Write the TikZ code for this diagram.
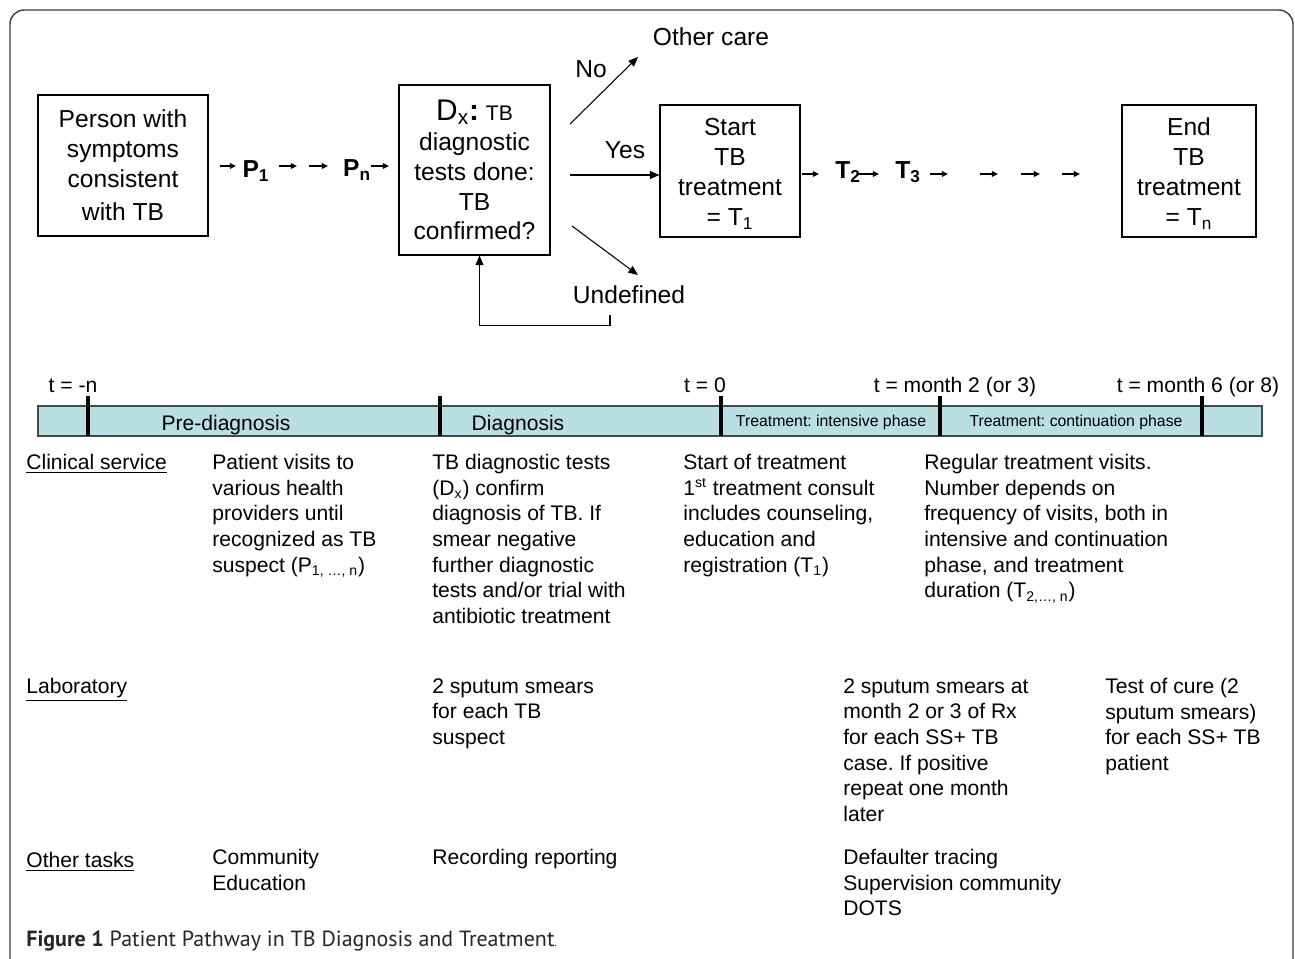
\documentclass[tikz,border=0pt]{standalone}
\usepackage{fontspec}
\setmainfont{Liberation Sans}
\newfontfamily\capfont{PT Sans}
\usetikzlibrary{arrows.meta,positioning,calc}
\frenchspacing

\definecolor{barfill}{HTML}{B9DFE2}
\definecolor{bardraw}{HTML}{3E4A4C}
\definecolor{framegray}{HTML}{3A3A3A}
\newcommand{\topsize}{\fontsize{14}{17}\selectfont}
\newcommand{\bodysize}{\fontsize{12}{14.6}\selectfont}

\begin{document}
\begin{tikzpicture}[x=0.02cm,y=-0.02cm,
    pbox/.style={draw,line width=0.6pt,align=center,inner sep=0pt,font=\topsize},
    arr/.style={-{Triangle[length=5.5pt,width=4.5pt]},line width=0.6pt},
    smallarr/.style={-{Triangle[length=3.5pt,width=3.2pt]},line width=0.6pt},
    toplbl/.style={font=\topsize,inner sep=0pt},
    tlbl/.style={font=\fontsize{12}{14}\selectfont,inner sep=0pt,anchor=base},
    bodytext/.style={font=\bodysize,align=left,anchor=north west,inner sep=0pt,
        execute at begin node={\strut}}]
    \useasboundingbox (0,0) rectangle (1295,958);
    \clip (0,0) rectangle (1295,958);
    \draw[framegray,line width=0.8pt,rounded corners=8pt] (10,10) rectangle (1293,1010);

    % pathway boxes
    \node[pbox,minimum width=3.4cm,minimum height=2.82cm] (person) at (123,165.5)
        {Person with\\symptoms\\consistent\\[2pt]with TB};
    \node[pbox,minimum width=3.02cm,minimum height=3.4cm] (dx) at (474.5,170)
        {{\fontsize{17}{19}\selectfont D\textsubscript{x}\textbf{:}} {\fontsize{12}{17}\selectfont TB}\\diagnostic\\tests done:\\TB\\confirmed?};
    \node[pbox,minimum width=2.8cm,minimum height=2.64cm] (start) at (730,171)
        {\rule{0pt}{13pt}Start\\TB\\treatment\\= T\textsubscript{1}};
    \node[pbox,minimum width=2.68cm,minimum height=2.64cm] (end) at (1189,171)
        {\rule{0pt}{13pt}End\\TB\\treatment\\= T\textsubscript{n}};

    \node[toplbl,font=\topsize\bfseries] (p1) at (256,171) {P\textsubscript{1}};
    \node[toplbl,font=\topsize\bfseries] (pn) at (357,170) {P\textsubscript{n}};
    \node[toplbl,font=\topsize\bfseries] (t2) at (848,172) {T\textsubscript{2}};
    \node[toplbl,font=\topsize\bfseries] (t3) at (908,172) {T\textsubscript{3}};

    % small arrows between visits
    \foreach \xa/\xb [count=\i] in {220/236,279/297,309/328,371/389} {
        \coordinate (pa\i) at (\xa,166);
        \coordinate (pb\i) at (\xb,166);
        \draw[smallarr] (pa\i) -- (pb\i);
    }
    \foreach \xa/\xb [count=\i] in {802/819,858/879,930/948,980/998,1021/1040,1062/1080} {
        \coordinate (ta\i) at (\xa,174);
        \coordinate (tb\i) at (\xb,174);
        \draw[smallarr] (ta\i) -- (tb\i);
    }

    % outcomes of diagnosis
    \coordinate (nostart) at (570,124);
    \coordinate (noend) at (638,57);
    \coordinate (yesstart) at (570,175);
    \coordinate (undstart) at (572,226);
    \coordinate (undend) at (638,275);
    \coordinate (fb) at (610,315);
    \draw[arr] (nostart) -- (noend);
    \draw[arr] (yesstart) -- (yesstart -| start.west);
    \draw[arr] (undstart) -- (undend);
    \draw[arr] (fb) |- ($(dx.south)+(5,70)$) -- ($(dx.south)+(5,0)$);
    \node[toplbl] (no) at (591,69) {No};
    \node[toplbl] (yes) at (625,150) {Yes};
    \node[toplbl] (other) at (711,37) {Other care};
    \node[toplbl] (undef) at (629,295) {Undefined};

    % time line
    \draw[draw=bardraw,fill=barfill,line width=0.6pt] (38,406) rectangle (1262,436);
    \foreach \tx in {88,440,721,940,1202}
        \draw[line width=2.2pt] (\tx,396) -- (\tx,436);
    \node[tlbl] at (73,392) {t = -n};
    \node[tlbl] at (705,392) {t = 0};
    \node[tlbl] at (955,392) {t = month 2 (or 3)};
    \node[tlbl] at (1198,392) {t = month 6 (or 8)};
    \node[tlbl] at (226,430) {Pre-diagnosis};
    \node[tlbl] at (518,430) {Diagnosis};
    \node[font=\fontsize{9}{11}\selectfont,inner sep=0pt] at (831,422) {Treatment: intensive phase};
    \node[font=\fontsize{9}{11}\selectfont,inner sep=0pt] at (1076,422) {Treatment: continuation phase};

    % clinical service
    \node[bodytext] at (26,451) {\underline{Clinical service}};
    \node[bodytext] at (212,454) {Patient visits to\\various health\\providers until\\recognized as TB\\suspect (P\textsubscript{1, \ldots, n})};
    \node[bodytext] at (432,454) {TB diagnostic tests\\(D\textsubscript{x}) confirm\\diagnosis of TB. If\\smear negative\\further diagnostic\\tests and/or trial with\\antibiotic treatment};
    \node[bodytext] at (683,454) {Start of treatment\\1\textsuperscript{st} treatment consult\\includes counseling,\\education and\\registration (T\textsubscript{1})};
    \node[bodytext] at (924,454) {Regular treatment visits.\\Number depends on\\frequency of visits, both in\\intensive and continuation\\phase, and treatment\\duration (T\textsubscript{2,\ldots, n})};

    % laboratory
    \node[bodytext] at (26,675) {\underline{Laboratory}};
    \node[bodytext] at (432,678) {2 sputum smears\\for each TB\\suspect};
    \node[bodytext] at (843,678) {2 sputum smears at\\month 2 or 3 of Rx\\for each SS+ TB\\case. If positive\\repeat one month\\later};
    \node[bodytext] at (1105,678) {Test of cure (2\\sputum smears)\\for each SS+ TB\\patient};

    % other tasks
    \node[bodytext] at (26,849) {\underline{Other tasks}};
    \node[bodytext] at (212,849) {Community\\Education};
    \node[bodytext] at (432,846) {Recording reporting};
    \node[bodytext] at (843,849) {Defaulter tracing\\Supervision community\\DOTS};

    \node[anchor=west,inner sep=0pt,font=\capfont\fontsize{12.5}{14}\selectfont,text=black!85] at (26,941)
        {\textbf{Figure 1} Patient Pathway in TB Diagnosis and Treatment{\fontsize{7}{8}\selectfont .}};
\end{tikzpicture}
\end{document}
